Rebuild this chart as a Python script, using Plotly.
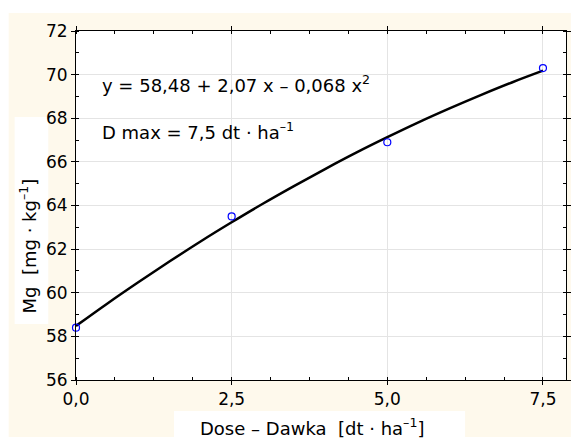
import plotly.graph_objects as go

# Observed points
dose = [0.0, 2.5, 5.0, 7.5]
mg = [58.4, 63.5, 66.9, 70.3]

# Fitted curve
curve_x = [0.0, 0.5, 1.0, 1.5, 2.0, 2.5, 3.0, 3.5, 4.0, 4.5, 5.0, 5.5, 6.0, 6.5, 7.0, 7.5]
curve_y = [58.48, 59.50, 60.48, 61.43, 62.35, 63.23, 64.08, 64.89, 65.67, 66.42,
           67.13, 67.81, 68.45, 69.06, 69.64, 70.18]

x_ticks = [0.0, 2.5, 5.0, 7.5]
x_ticklabels = ["0,0", "2,5", "5,0", "7,5"]
y_ticks = [56, 58, 60, 62, 64, 66, 68, 70, 72]

FONT = "DejaVu Sans, Liberation Sans, Arial, sans-serif"
CREAM = "#FEF9EC"

fig = go.Figure()
fig.add_trace(go.Scatter(x=curve_x, y=curve_y, mode="lines",
                         line=dict(color="black", width=2.5, shape="spline"),
                         showlegend=False, hoverinfo="skip"))
fig.add_trace(go.Scatter(x=dose, y=mg, mode="markers",
                         marker=dict(symbol="circle-open", size=7, color="#0000FF",
                                     line=dict(width=1.2, color="#0000FF")),
                         showlegend=False, cliponaxis=False))

fig.update_layout(
    width=571, height=438,
    margin=dict(l=76, r=0, t=31, b=58),
    paper_bgcolor="white", plot_bgcolor="white",
    font=dict(family=FONT, size=17, color="black"),
    xaxis=dict(range=[0, 7.87], tickvals=x_ticks, ticktext=x_ticklabels,
               showgrid=True, gridcolor="#E4E4E4", gridwidth=1,
               showline=True, linecolor="black", linewidth=1, mirror="ticks",
               ticks="outside", ticklen=4, tickcolor="black",
               minor=dict(dtick=0.625, tick0=0, ticks="inside", ticklen=3,
                          tickcolor="black", showgrid=False),
               zeroline=False, tickfont=dict(size=17)),
    yaxis=dict(range=[56, 72], tickvals=y_ticks,
               showgrid=True, gridcolor="#E4E4E4", gridwidth=1,
               showline=True, linecolor="black", linewidth=1, mirror="ticks",
               ticks="outside", ticklen=4, tickcolor="black",
               minor=dict(dtick=1, tick0=56, ticks="inside", ticklen=3,
                          tickcolor="black", showgrid=False),
               zeroline=False, tickfont=dict(size=17)),
)

shapes = [
    dict(type="rect", xref="paper", yref="paper", x0=-0.1374, x1=1.01, y0=-0.1633, y1=1.0516,
         fillcolor=CREAM, line=dict(width=0), layer="below"),
    dict(type="rect", xref="paper", yref="paper", x0=0, x1=1, y0=0, y1=1,
         fillcolor="white", line=dict(width=0), layer="below"),
    dict(type="rect", xref="paper", yref="paper", x0=-0.1253, x1=-0.0566, y0=0.1605, y1=0.7536,
         fillcolor="white", line=dict(width=0), layer="below"),
    dict(type="rect", xref="paper", yref="paper", x0=0.2, x1=0.794, y0=-0.17, y1=-0.0888,
         fillcolor="white", line=dict(width=0), layer="below"),
]
fig.update_layout(shapes=shapes)

fig.add_annotation(xref="paper", yref="paper", x=-0.0970, y=0.384, text="Mg  [mg · kg<sup>–1</sup>]",
                   textangle=-90, showarrow=False, font=dict(size=18),
                   xanchor="center", yanchor="middle")
fig.add_annotation(xref="paper", yref="paper", x=0.482, y=-0.1347, text="Dose – Dawka  [dt · ha<sup>–1</sup>]",
                   showarrow=False, font=dict(size=18), xanchor="center", yanchor="middle")
fig.add_annotation(xref="paper", yref="paper", x=0.0485, y=0.848,
                   text="y = 58,48 + 2,07 x – 0,068 x<sup>2</sup>",
                   showarrow=False, font=dict(size=18), xanchor="left", yanchor="middle")
fig.add_annotation(xref="paper", yref="paper", x=0.0485, y=0.713,
                   text="D max = 7,5 dt · ha<sup>–1</sup>",
                   showarrow=False, font=dict(size=18), xanchor="left", yanchor="middle")

fig.write_html("out.html",
               config={"displayModeBar": False},
               post_script="document.body.style.margin='0';"
                           "document.body.style.overflow='hidden';"
                           "document.documentElement.style.overflow='hidden';")
